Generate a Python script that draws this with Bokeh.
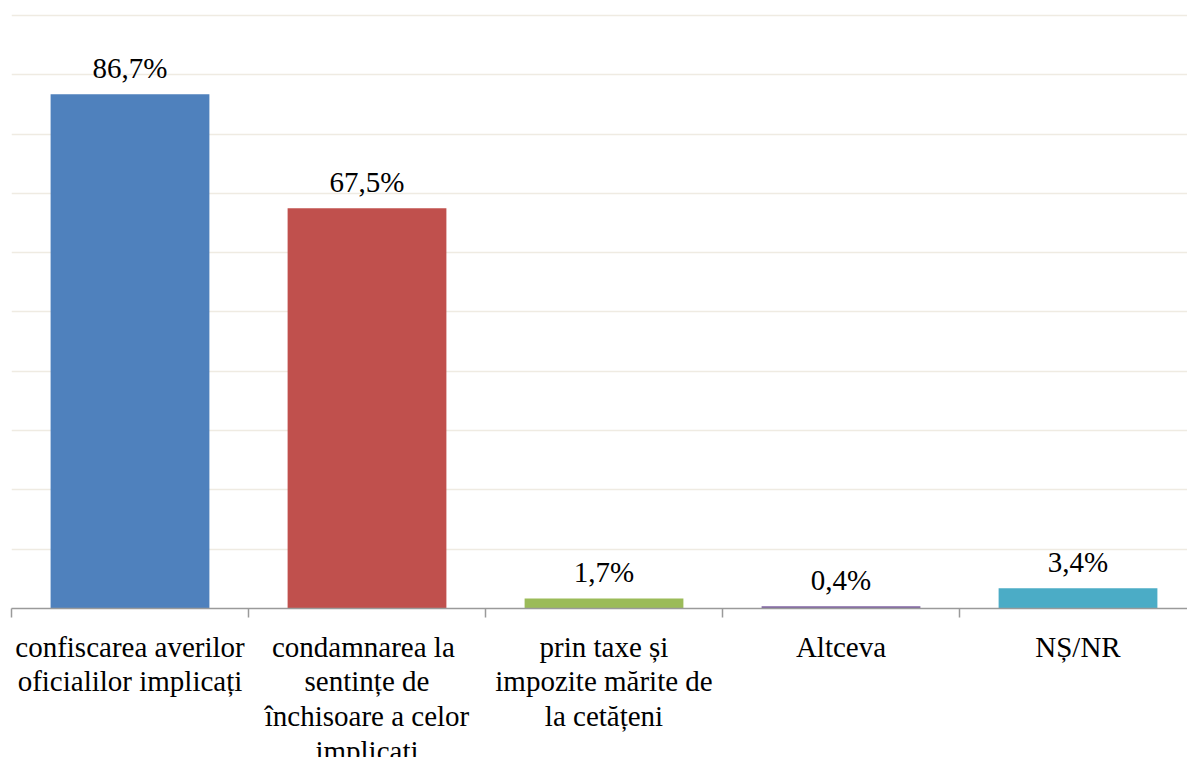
from bokeh.plotting import figure
from bokeh.models import ColumnDataSource, LabelSet, Range1d, FixedTicker
from bokeh.embed import file_html
from bokeh.resources import INLINE

categories = [
    "confiscarea averilor\noficialilor implicați",
    "condamnarea  la\nsentințe de\nînchisoare a celor\nimplicați",
    "prin taxe și\nimpozite mărite de\nla cetățeni",
    "Altceva",
    "NȘ/NR",
]
values = [86.7, 67.5, 1.7, 0.4, 3.4]
colors = ["#4F81BD", "#C0504D", "#9BBB59", "#8064A2", "#4BACC6"]
value_labels = [f"{v:.1f}".replace(".", ",") + "%" for v in values]
y_ticks = list(range(0, 101, 10))

xpos = [i + 0.5 for i in range(len(categories))]
source = ColumnDataSource(dict(x=xpos, top=values, color=colors, vlab=value_labels))

FONT = "'Liberation Serif', 'Times New Roman', serif"

p = figure(width=1187, height=800, output_backend="svg", toolbar_location=None,
           x_range=Range1d(0, 4.962), y_range=Range1d(0, 100.5),
           min_border_left=11, min_border_right=0, min_border_top=12,
           min_border_bottom=192)
p.outline_line_color = None
p.background_fill_color = "white"

p.vbar(x="x", top="top", width=0.67, fill_color="color", line_color=None, source=source)

p.xgrid.visible = False
p.yaxis.visible = False
p.ygrid.ticker = FixedTicker(ticks=y_ticks)
p.ygrid.grid_line_color = "#EFEBE2"
p.ygrid.grid_line_width = 1.5

ax = p.xaxis[0]
ax.ticker = FixedTicker(ticks=xpos, minor_ticks=list(range(len(categories) + 1)))
ax.major_label_overrides = {x: c for x, c in zip(xpos, categories)}
ax.axis_line_color = "#9A9A9A"
ax.axis_line_width = 1.5
ax.minor_tick_line_color = "#9A9A9A"
ax.minor_tick_line_width = 1.5
ax.minor_tick_in = 0
ax.minor_tick_out = 9
ax.major_tick_in = 0
ax.major_tick_out = 0
ax.major_label_standoff = 13
ax.major_label_text_font = FONT
ax.major_label_text_font_size = "29px"
ax.major_label_text_color = "#000000"
ax.major_label_text_line_height = 1.09
ax.major_label_text_align = "center"

vl = LabelSet(x="x", y="top", text="vlab", source=source, y_offset=16,
              text_align="center", text_baseline="alphabetic",
              text_font=FONT, text_font_size="29px", text_color="#000000")
p.add_layout(vl)

open("out.html", "w").write(file_html(p, INLINE))
